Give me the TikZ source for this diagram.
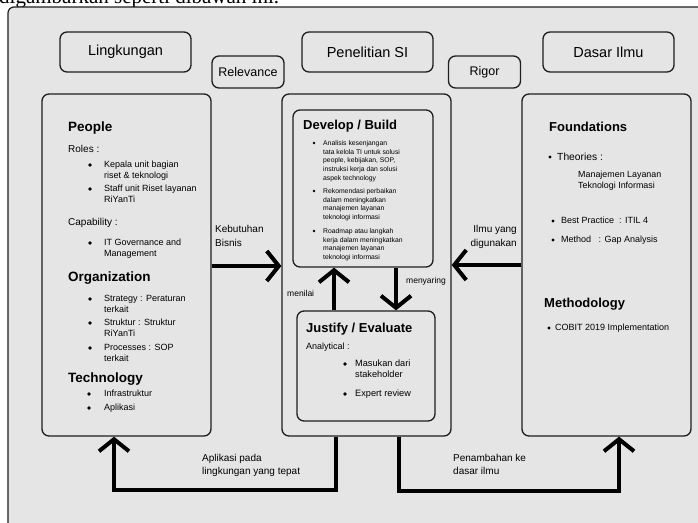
\documentclass[tikz,border=0pt]{standalone}
\usepackage{fontspec}
\setmainfont{Liberation Sans}
\newfontfamily\timesfont{Liberation Serif}
\usetikzlibrary{arrows.meta}
\definecolor{panel}{HTML}{E5E5E5}
\definecolor{edge}{HTML}{1E1E1E}
\tikzset{
  box/.style={draw=edge, line width=1.3pt, rounded corners=7pt, fill=panel, inner sep=0pt},
  hdr/.style={box, minimum width=131pt, minimum height=40pt, font=\fontsize{14.5}{16}\selectfont},
  tag/.style={box, minimum width=72pt, minimum height=32pt, font=\fontsize{12.5}{14}\selectfont},
  big/.style={box, minimum width=169pt, minimum height=342pt},
  arr/.style={line width=4pt, -{Straight Barb[length=12pt,width=30pt]}},
  flow/.style={line width=4pt, line join=miter},
  txt/.style={anchor=north west, inner sep=0pt, align=left},
  head/.style={txt, font=\bfseries\fontsize{13.5}{15}\selectfont},
  fa/.style={txt, font=\fontsize{10}{12}\selectfont},
  fb/.style={txt, font=\fontsize{9}{11}\selectfont},
  fc/.style={txt, font=\fontsize{6.8}{8.8}\selectfont},
  lab/.style={txt, font=\fontsize{10}{14}\selectfont},
  sm/.style={txt, font=\fontsize{8.5}{10}\selectfont},
  dot/.style={fill=black}
}
\begin{document}
\begin{tikzpicture}[x=1pt,y=-1pt]
\useasboundingbox (0,0) rectangle (698,522);
\clip (0,0) rectangle (698,522);
\fill[white] (0,0) rectangle (698,522);
\node[anchor=base west, inner sep=0pt, font=\timesfont\fontsize{21}{21}\selectfont] (cap) at (-1,3) {digambarkan seperti dibawah ini.};
\draw[draw=edge, line width=1.2pt, fill=panel, rounded corners=6pt] (8,7) rectangle (740,560);

% header boxes
\node[hdr] (hL) at (125.5,52) {Lingkungan};
\node[hdr] (hC) at (367.5,52) {Penelitian SI};
\node[hdr] (hR) at (608.5,52) {Dasar Ilmu};
\node[tag] (rel) at (248,72) {Relevance};
\node[tag] (rig) at (484.5,72) {Rigor};

% main boxes
\node[big] (L) at (126.5,265) {};
\node[big] (C) at (366.5,265) {};
\node[big] (R) at (606.5,265) {};
\node[box, minimum width=140pt, minimum height=157pt] (D) at (363,188.5) {};
\node[box, minimum width=138pt, minimum height=110pt] (J) at (366,366) {};

% left box text
\node[head] (tPeople) at (68,121.3) {People};
\node[fa] (tRoles) at (68,144.8) {Roles :};
\fill[dot] (90,165) circle[radius=1.8pt];
\node[fb] (tKepala) at (104,161.2) {Kepala unit bagian\\riset \& teknologi};
\fill[dot] (90,189) circle[radius=1.8pt];
\node[fb] (tStaff) at (104,185.2) {Staff unit Riset layanan\\RiYanTi};
\node[fa] (tCap) at (68,217.8) {Capability :};
\fill[dot] (90,243) circle[radius=1.8pt];
\node[fb] (tITG) at (104,239.2) {IT Governance and\\Management};
\node[head] (tOrg) at (68,272) {Organization};
\fill[dot] (90,299) circle[radius=1.8pt];
\node[fb] (tStrat) at (104,295.2) {Strategy : Peraturan\\terkait};
\fill[dot] (90,323) circle[radius=1.8pt];
\node[fb] (tStruk) at (104,319.2) {Struktur : Struktur\\RiYanTi};
\fill[dot] (90,348) circle[radius=1.8pt];
\node[fb] (tProc) at (104,344.2) {Processes : SOP\\terkait};
\node[head] (tTech) at (68,372.3) {Technology};
\fill[dot] (89,394) circle[radius=1.8pt];
\node[fb] (tInfra) at (104,390.2) {Infrastruktur};
\fill[dot] (89,408) circle[radius=1.8pt];
\node[fb] (tApl) at (104,404.2) {Aplikasi};

% develop / build
\node[head, font=\bfseries\fontsize{13}{15}\selectfont] (tDev) at (303,119.5) {Develop / Build};
\fill[dot] (314,143) circle[radius=1.4pt];
\node[fc] (tDev1) at (323,140.1) {Analisis kesenjangan\\tata kelola TI untuk solusi\\people, kebijakan, SOP,\\instruksi kerja dan solusi\\aspek technology};
\fill[dot] (314,191) circle[radius=1.4pt];
\node[fc] (tDev2) at (323,188.1) {Rekomendasi perbaikan\\dalam meningkatkan\\manajemen layanan\\teknologi informasi};
\fill[dot] (314,231) circle[radius=1.4pt];
\node[fc] (tDev3) at (323,228.1) {Roadmap atau langkah\\kerja dalam meningkatkan\\manajemen layanan\\teknologi informasi};

% justify / evaluate
\node[head, font=\bfseries\fontsize{13}{15}\selectfont] (tJus) at (306,323.3) {Justify / Evaluate};
\node[fb] (tAna) at (306,343.2) {Analytical :};
\fill[dot] (345,364) circle[radius=1.8pt];
\node[fb, font=\fontsize{9.2}{11}\selectfont] (tMas) at (355,360.1) {Masukan dari\\stakeholder};
\fill[dot] (345,394) circle[radius=1.8pt];
\node[fb, font=\fontsize{9.2}{11}\selectfont] (tExp) at (355,390.1) {Expert review};

% right box text
\node[head, font=\bfseries\fontsize{13}{15}\selectfont] (tFound) at (549,121.5) {Foundations};
\fill[dot] (550,157) circle[radius=1.6pt];
\node[fa, font=\fontsize{10.3}{12}\selectfont] (tTheo) at (557,152.7) {Theories :};
\node[fb, font=\fontsize{8.9}{11}\selectfont] (tMan) at (578,171.3) {Manajemen Layanan\\Teknologi Informasi};
\fill[dot] (553,221) circle[radius=1.6pt];
\node[fb] (tBest) at (561,217.2) {Best Practice~~: ITIL 4};
\fill[dot] (553,240) circle[radius=1.6pt];
\node[fb] (tMeth) at (561,236.2) {Method~~~: Gap Analysis};
\node[head, font=\bfseries\fontsize{13}{15}\selectfont] (tMethod) at (544,297.5) {Methodology};
\fill[dot] (549,328) circle[radius=1.6pt];
\node[fb] (tCobit) at (555,324.2) {COBIT 2019 Implementation};

% connector labels
\node[lab] (lKeb) at (215,224.8) {Kebutuhan\\Bisnis};
\node[lab, anchor=north east, align=right] (lIlmu) at (517,224.8) {Ilmu yang\\digunakan};
\node[sm] (lNil) at (287,290.4) {menilai};
\node[sm] (lNya) at (406,277.4) {menyaring};
\node[lab, font=\fontsize{10}{13}\selectfont] (lApl) at (202,453.8) {Aplikasi pada\\lingkungan yang tepat};
\node[lab, font=\fontsize{10}{13}\selectfont] (lPen) at (453,453.8) {Penambahan ke\\dasar ilmu};

% connectors
\draw[arr] (L.east |- 0,266) -- (C.west |- 0,266);
\draw[arr] (R.west |- 0,265) -- (C.east |- 0,265);
\draw[arr] (J.north -| 334,0) -- (D.south -| 334,0);
\draw[arr] (D.south -| 396,0) -- (J.north -| 396,0);
\coordinate (bl1) at (336,490);
\coordinate (bl2) at (114,490);
\coordinate (br1) at (399,491);
\coordinate (br2) at (619,491);
\draw[flow, -{Straight Barb[length=12pt,width=30pt]}] (C.south -| bl1) -- (bl1) -- (bl2) -- (L.south -| bl2);
\draw[flow, -{Straight Barb[length=12pt,width=30pt]}] (C.south -| br1) -- (br1) -- (br2) -- (R.south -| br2);
\end{tikzpicture}
\end{document}
